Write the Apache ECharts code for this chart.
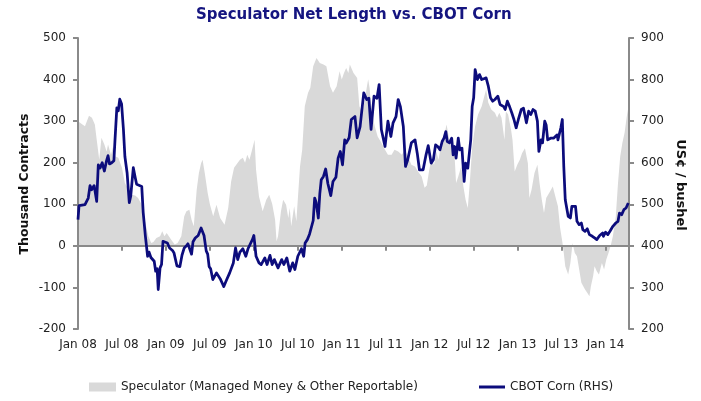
<!DOCTYPE html>
<html>
<head>
<meta charset="utf-8">
<script src="https://cdn.jsdelivr.net/npm/echarts@6/dist/echarts.min.js"></script>
<style>
html,body{margin:0;padding:0;background:#fff;}
#chart{width:701px;height:401px;}
</style>
</head>
<body>
<div id="chart"></div>
<script>
// x positions are months since Jan 2008
const tickLabels = ['Jan 08','Jul 08','Jan 09','Jul 09','Jan 10','Jul 10','Jan 11','Jul 11','Jan 12','Jul 12','Jan 13','Jul 13','Jan 14'];

const specMonths = [0,0.6,0.95,1.5,1.9,2.3,2.55,2.9,3.2,3.6,3.9,4.1,4.5,4.8,5.1,5.5,6.0,6.4,6.9,7.3,7.8,8.2,8.7,9.1,9.6,10.0,10.3,10.7,11.2,11.5,11.8,12.1,12.3,12.7,13.2,13.6,14.1,14.5,14.8,15.2,15.5,15.8,16.2,16.5,16.8,17.0,17.3,17.7,18.0,18.45,18.9,19.4,20.0,20.5,20.9,21.3,21.6,22.1,22.5,22.8,23.1,23.4,23.7,24.1,24.3,24.7,25.2,25.7,26.1,26.5,26.9,27.1,27.3,27.7,28.0,28.4,28.7,28.9,29.1,29.5,29.8,30.0,30.3,30.6,30.95,31.4,31.7,32.1,32.55,33.0,33.5,33.9,34.4,34.8,35.3,35.7,36.0,36.3,36.6,36.9,37.1,37.6,38.1,38.4,38.7,39.0,39.4,39.6,39.8,40.0,40.5,40.9,41.4,41.9,42.3,42.8,43.2,43.7,44.2,44.6,45.1,45.5,46.0,46.4,46.9,47.3,47.6,47.9,48.2,48.6,48.9,49.2,49.6,49.95,50.3,50.6,51.0,51.4,51.6,51.9,52.3,52.6,52.9,53.2,53.5,53.8,54.2,54.6,55.1,55.4,55.7,56.0,56.4,56.9,57.2,57.5,57.8,58.2,58.4,58.7,59.1,59.3,59.6,59.95,60.3,60.6,61.0,61.4,61.6,61.9,62.3,62.7,63.0,63.3,63.6,63.9,64.4,64.8,65.2,65.5,65.8,66.1,66.3,66.5,66.9,67.2,67.5,67.8,68.1,68.4,68.7,69.2,69.5,69.8,70.0,70.3,70.5,70.8,71.1,71.5,71.8,72.1,72.4,72.7,73.0,73.4,73.7,74.0,74.3,74.6,74.9,75.1];
const specNet = [300,292,288,313,308,292,256,207,260,244,227,244,219,239,215,212,188,151,135,123,121,115,99,63,23,7,9,19,23,35,23,31,31,15,3,7,23,71,83,87,63,47,135,175,199,207,175,127,100,71,99,67,51,91,155,188,195,207,212,200,219,207,227,255,183,119,83,111,123,101,63,11,23,83,111,99,67,91,47,95,59,55,191,231,336,368,380,432,452,440,436,432,384,368,384,420,400,416,428,416,436,416,404,336,324,336,380,401,380,332,288,263,248,231,219,219,231,227,219,231,212,195,191,179,167,140,145,179,207,195,227,207,248,263,292,263,231,215,151,167,191,143,111,91,159,239,288,316,336,356,376,344,328,320,308,320,308,255,324,316,280,255,179,195,207,223,235,199,115,135,175,195,150,111,79,115,130,143,115,95,43,10,-17,-49,-69,-41,7,-17,-25,-57,-89,-105,-113,-121,-97,-73,-49,-61,-69,-41,-57,-33,-17,0,23,71,151,215,248,272,312,332];

const cornMonths = [0,0.14,0.95,1.4,1.64,1.86,2.2,2.55,2.77,3.0,3.3,3.6,3.9,4.1,4.3,4.6,4.9,5.05,5.3,5.5,5.7,5.95,6.2,6.4,6.7,7.0,7.2,7.55,7.8,8.0,8.2,8.7,8.9,9.2,9.5,9.7,9.95,10.1,10.4,10.6,10.8,10.95,11.2,11.4,11.6,11.8,12.2,12.5,12.9,13.1,13.5,13.9,14.2,14.5,14.8,15.0,15.3,15.5,15.7,16.0,16.4,16.8,17.0,17.2,17.5,17.7,17.9,18.1,18.4,18.9,19.4,19.9,20.3,20.7,21.2,21.5,21.8,22.1,22.5,22.9,23.2,23.4,23.8,24.0,24.3,24.7,25.0,25.5,25.8,26.2,26.5,26.8,27.3,27.8,28.1,28.5,28.9,29.3,29.6,30.0,30.5,30.8,31.0,31.3,31.6,32.1,32.3,32.5,32.8,33.0,33.2,33.5,33.8,34.1,34.5,34.8,35.2,35.5,35.8,36.1,36.4,36.6,37.0,37.3,37.8,38.1,38.5,38.7,39.0,39.4,39.7,40.0,40.2,40.4,40.8,41.1,41.4,41.9,42.3,42.7,43.0,43.4,43.7,44.0,44.4,44.7,45.0,45.5,46.0,46.3,46.6,47.1,47.5,47.8,48.2,48.5,48.8,49.1,49.4,49.7,49.95,50.2,50.4,50.7,51.0,51.2,51.4,51.6,51.9,52.1,52.4,52.7,52.9,53.2,53.4,53.6,53.8,54.0,54.2,54.5,54.8,55.1,55.4,55.7,56.0,56.3,56.6,56.9,57.3,57.6,57.8,58.1,58.3,58.6,58.9,59.2,59.5,59.8,60.1,60.5,60.8,61.2,61.5,61.8,62.1,62.4,62.7,62.9,63.2,63.4,63.7,63.9,64.1,64.5,64.9,65.4,65.5,65.9,66.1,66.3,66.5,66.9,67.2,67.4,67.9,68.1,68.4,68.7,68.9,69.2,69.5,69.8,70.2,70.5,70.8,71.2,71.6,71.7,72.0,72.3,72.6,73.0,73.4,73.7,73.9,74.2,74.5,74.8,75.1];
const cornPrice = [463,497,499,515,545,535,545,507,595,587,600,580,605,617,597,600,605,655,732,725,753,741,680,615,576,504,520,588,565,548,550,543,480,423,375,385,372,374,363,339,345,295,347,355,411,411,407,395,389,383,352,350,378,395,400,405,390,380,410,419,425,443,440,425,388,380,350,345,319,335,321,302,319,335,359,395,367,385,393,375,393,390,415,425,375,359,355,371,355,377,355,367,347,367,355,371,339,359,343,375,393,375,407,415,428,461,515,505,467,525,559,567,585,550,521,555,565,611,627,595,655,647,660,704,711,660,687,690,768,752,755,680,683,760,755,788,680,639,700,663,696,711,752,735,687,591,607,648,655,623,583,583,619,641,599,607,643,639,631,651,659,675,651,648,659,619,639,611,659,631,635,555,599,587,591,655,736,756,824,800,812,800,802,804,784,756,748,752,760,740,740,735,728,748,735,720,704,684,704,728,731,696,724,716,728,724,700,627,655,648,700,690,655,659,659,667,655,684,704,591,511,471,467,495,495,459,451,455,439,435,441,427,423,419,415,425,431,423,433,427,435,447,455,459,479,475,487,491,503];

const FONT = '"DejaVu Sans", Verdana, sans-serif';
const chart = echarts.init(document.getElementById('chart'), null, {renderer: 'canvas'});
const axisGray = '#8a8a8a';
const axisW = 2;
const labelStyle = {fontFamily: FONT, fontSize: 12, color: '#222'};

chart.setOption({
  backgroundColor: '#ffffff',
  animation: false,
  title: {
    text: 'Speculator Net Length vs. CBOT Corn',
    left: 196, top: 8, padding: 0,
    textStyle: {fontFamily: FONT, fontSize: 15, fontWeight: 'bold', color: '#151580'}
  },
  grid: {left: 78, right: 72, top: 38, bottom: 72, containLabel: false},
  legend: [
    {
      data: [{name: 'Speculator (Managed Money & Other Reportable)', icon: 'rect', itemStyle: {color: '#d9d9d9'}}],
      left: 89, top: 381, itemWidth: 27, itemHeight: 9, padding: 0,
      textStyle: labelStyle, selectedMode: false
    },
    {
      data: [{name: 'CBOT Corn (RHS)', icon: 'rect', itemStyle: {color: '#0c0c7c'}}],
      left: 479, top: 381, itemWidth: 26, itemHeight: 3, padding: 0,
      textStyle: labelStyle, selectedMode: false
    }
  ],
  xAxis: [
    {
      // bottom axis: labels only
      type: 'value', min: 0, max: 75.2, interval: 6, position: 'bottom',
      axisLine: {show: false, onZero: false},
      axisTick: {show: false},
      splitLine: {show: false},
      axisLabel: {
        ...labelStyle, margin: 10, showMaxLabel: false,
        formatter: v => (Math.abs(v % 6) < 1e-6 && tickLabels[Math.round(v / 6)]) ? tickLabels[Math.round(v / 6)] : ''
      }
    },
    {
      // axis line with ticks at the zero level of the left axis
      type: 'value', min: 0, max: 75.2, interval: 6, position: 'bottom', z: 4,
      axisLine: {show: true, onZero: true, onZeroAxisIndex: 0, lineStyle: {color: axisGray, width: axisW}},
      axisTick: {show: true, length: 5, inside: false, lineStyle: {color: axisGray, width: axisW}},
      axisLabel: {show: false},
      splitLine: {show: false}
    }
  ],
  yAxis: [
    {
      type: 'value', min: -200, max: 500, interval: 100, position: 'left', z: 4,
      axisLine: {show: true, onZero: false, lineStyle: {color: axisGray, width: axisW}},
      axisTick: {show: true, length: 5, lineStyle: {color: axisGray, width: axisW}},
      splitLine: {show: false},
      axisLabel: {...labelStyle, margin: 12}
    },
    {
      type: 'value', min: 200, max: 900, interval: 100, position: 'right', z: 4,
      axisLine: {show: true, onZero: false, lineStyle: {color: axisGray, width: axisW}},
      axisTick: {show: true, length: 5, lineStyle: {color: axisGray, width: axisW}},
      splitLine: {show: false},
      axisLabel: {...labelStyle, margin: 12}
    }
  ],
  graphic: [
    {type: 'text', x: 25, y: 184, rotation: Math.PI / 2, silent: true,
     style: {text: 'Thousand Contracts', font: 'bold 12.5px ' + FONT, fill: '#111', align: 'center', verticalAlign: 'middle'}},
    {type: 'text', x: 680, y: 185, rotation: -Math.PI / 2, silent: true,
     style: {text: 'US¢ / bushel', font: 'bold 13px ' + FONT, fill: '#111', align: 'center', verticalAlign: 'middle'}}
  ],
  series: [
    {
      name: 'Speculator (Managed Money & Other Reportable)',
      type: 'line', xAxisIndex: 0, yAxisIndex: 0, z: 1,
      data: specMonths.map((t, i) => [t, specNet[i]]),
      symbol: 'none', silent: true,
      lineStyle: {width: 0, color: '#d9d9d9'},
      itemStyle: {color: '#d9d9d9'},
      areaStyle: {color: '#d9d9d9', opacity: 1}
    },
    {
      name: 'CBOT Corn (RHS)',
      type: 'line', xAxisIndex: 0, yAxisIndex: 1, z: 10,
      data: cornMonths.map((t, i) => [t, cornPrice[i]]),
      symbol: 'none', silent: true,
      lineStyle: {width: 2.75, color: '#0c0c7c', join: 'round'},
      itemStyle: {color: '#0c0c7c'}
    }
  ]
});
</script>
</body>
</html>
